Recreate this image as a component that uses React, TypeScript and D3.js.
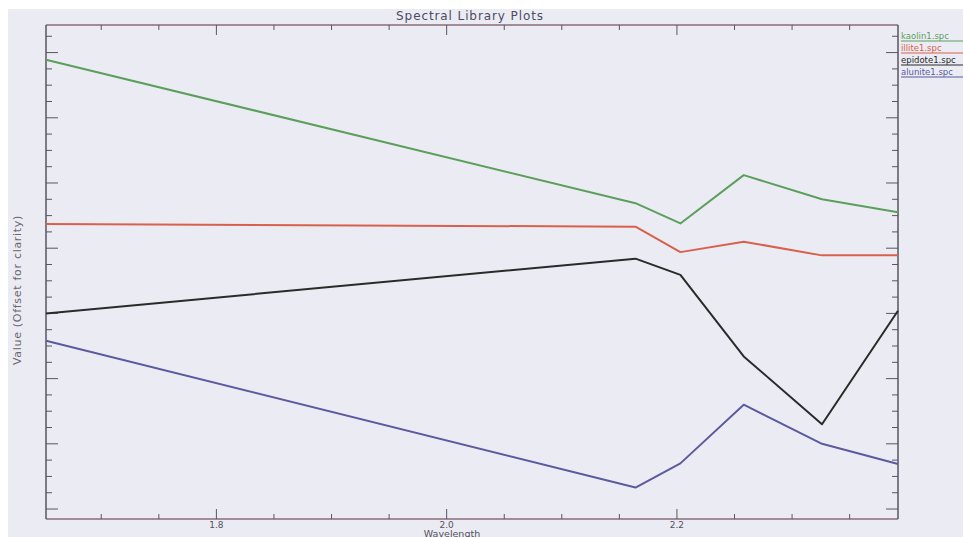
import React from "react";
import * as d3 from "d3";

const wavelengths = [1.652, 2.164, 2.203, 2.258, 2.326, 2.392];
const kaolinite = [0.689, 0.469, 0.438, 0.512, 0.475, 0.455];
const illite = [0.437, 0.433, 0.394, 0.41, 0.389, 0.389];
const epidote = [0.3, 0.384, 0.359, 0.234, 0.13, 0.304];
const alunite = [0.258, 0.033, 0.07, 0.16, 0.1, 0.069];
const seriesNames = ["kaolin1.spc", "illite1.spc", "epidote1.spc", "alunite1.spc"];
const seriesColors = ["#5c9e5c", "#d9604c", "#2a2a2a", "#5a5aa0"];
const xMajorTicks = [1.8, 2.0, 2.2];
const xTitle = "Wavelength";
const yTitle = "Value (Offset for clarity)";
const chartTitle = "Spectral Library Plots";

const W = 963, H = 537;
const L = 46, R = 898, T = 25, B = 519;

export default function App() {
  const x = d3.scaleLinear().domain([1.652, 2.392]).range([L, R]);
  const y = d3.scaleLinear().domain([-0.0153, 0.7423]).range([B, T]);
  const all = [kaolinite, illite, epidote, alunite];
  const line = d3.line<number>().x((_, i) => x(wavelengths[i])).y((d) => y(d));
  const xMinor = d3.range(1.7, 2.3751, 0.05).map((v) => +v.toFixed(3));
  const yMinor = d3.range(0, 0.7401, 0.025).map((v) => +v.toFixed(3));
  const isMajX = (v: number) => xMajorTicks.some((m) => Math.abs(m - v) < 1e-6);
  const isMajY = (v: number) => Math.abs(v * 10 - Math.round(v * 10)) < 1e-6;
  const axisPink = "#8a6c7c";
  const axisGrey = "#5a5560";
  return (
    <svg width={W} height={H} style={{ position: "absolute", left: 0, top: 0 }} fontFamily="DejaVu Sans, sans-serif">
      <rect x={0} y={0} width={W} height={H} fill="#ffffff" />
      <rect x={8} y={9} width={W - 8} height={H - 9} fill="#ebecf3" />
      <text x={470} y={20} textAnchor="middle" fontSize={12} letterSpacing={0.9} fill="#4e4a62">{chartTitle}</text>
      <line x1={L} x2={R} y1={T} y2={T} stroke={axisPink} strokeWidth={1.5} />
      <line x1={L} x2={R} y1={B} y2={B} stroke={axisPink} strokeWidth={1.5} />
      <line x1={L} x2={L} y1={T} y2={B} stroke={axisGrey} strokeWidth={1.5} />
      <line x1={R} x2={R} y1={T} y2={B} stroke={axisGrey} strokeWidth={1.5} />
      {xMinor.map((v) => {
        const len = isMajX(v) ? 10 : 5;
        return (
          <g key={"xt" + v}>
            <line x1={x(v)} x2={x(v)} y1={B} y2={B - len} stroke={axisGrey} strokeWidth={1} />
            <line x1={x(v)} x2={x(v)} y1={T} y2={T + len} stroke={axisGrey} strokeWidth={1} />
          </g>
        );
      })}
      {yMinor.map((v) => {
        const len = isMajY(v) ? 12 : 6;
        return (
          <g key={"yt" + v}>
            <line x1={L} x2={L + len} y1={y(v)} y2={y(v)} stroke={axisGrey} strokeWidth={1} />
            <line x1={R} x2={R - len} y1={y(v)} y2={y(v)} stroke={axisGrey} strokeWidth={1} />
          </g>
        );
      })}
      {xMajorTicks.map((v) => (
        <text key={"xl" + v} x={x(v)} y={528} textAnchor="middle" fontSize={9} fill="#55505e">{v.toFixed(1)}</text>
      ))}
      <text x={452} y={536.5} textAnchor="middle" fontSize={9.5} fill="#55505e">{xTitle}</text>
      <text transform={`translate(21,${290}) rotate(-90)`} textAnchor="middle" fontSize={11} letterSpacing={0.7} fill="#6a6670">{yTitle}</text>
      {all.map((s, i) => (
        <path key={"s" + i} d={line(s) || ""} fill="none" stroke={seriesColors[i]} strokeWidth={2} strokeLinejoin="round" />
      ))}
      {seriesNames.map((n, i) => (
        <g key={"lg" + i}>
          <text x={901} y={39 + i * 12} fontSize={8.5} fill={seriesColors[i]}>{n}</text>
          <line x1={901} x2={W} y1={41 + i * 12} y2={41 + i * 12} stroke={seriesColors[i]} strokeWidth={1} />
        </g>
      ))}
    </svg>
  );
}
